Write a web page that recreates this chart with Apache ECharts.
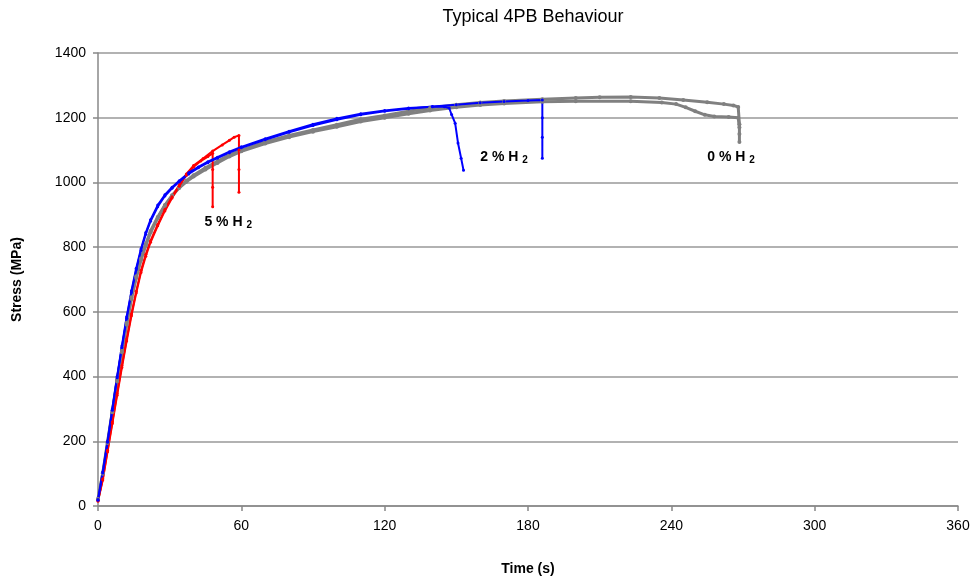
<!DOCTYPE html>
<html>
<head>
<meta charset="utf-8">
<script src="https://cdn.jsdelivr.net/npm/echarts@6/dist/echarts.min.js"></script>
<style>html,body{margin:0;padding:0;background:#fff}#c{width:974px;height:586px}</style>
</head>
<body>
<div id="c"></div>
<script>
// Time (s), Stress (MPa)
var red1 = [[0,15],[2,80],[4,168],[6,255],[8,342],[10,428],[12,510],[14,588],[16,658],[18,722],[20,772],[22,815],[25,866],[28,912],[31,952],[34,988],[37,1022],[40,1048],[43,1066],[46,1080],[48,1090],[48,1040],[48,985],[48,925]];
var red2 = [[0,18],[2,84],[4,172],[6,260],[8,348],[10,434],[12,516],[14,594],[16,664],[18,728],[20,778],[22,820],[25,870],[28,916],[31,956],[34,992],[37,1026],[40,1052],[44,1074],[48,1097],[52,1116],[55,1130],[57,1140],[59,1145],[59,1100],[59,1040],[59,970]];
var gray1 = [[0,20],[2,100],[4,195],[6,290],[8,385],[10,475],[12,560],[14,640],[16,705],[18,760],[20,805],[22,845],[25,890],[28,928],[31,958],[34,985],[37,1005],[40,1022],[45,1045],[50,1065],[55,1085],[60,1100],[70,1125],[80,1145],[90,1162],[100,1178],[110,1195],[120,1207],[130,1220],[139,1230],[150,1240],[160,1247],[170,1252],[186,1257],[200,1261],[210,1263],[223,1264],[235,1261],[245,1255],[255,1248],[262,1242],[266,1238],[268,1233],[268.5,1180],[268.5,1150],[268.5,1125]];
var gray2 = [[0,22],[2,102],[4,198],[6,294],[8,390],[10,480],[12,566],[14,645],[16,710],[18,765],[20,810],[22,850],[25,893],[28,930],[31,960],[34,983],[37,1002],[40,1018],[45,1040],[50,1060],[55,1080],[60,1096],[70,1120],[80,1140],[90,1157],[100,1172],[110,1188],[120,1200],[130,1212],[139,1222],[150,1232],[160,1239],[170,1244],[186,1249],[200,1251],[223,1251],[236,1247],[242,1242],[246,1232],[250,1220],[254,1209],[258,1204],[264,1202],[268,1200],[268.5,1170]];
var blue1 = [[0,20],[2,105],[4,200],[6,300],[8,400],[10,495],[12,585],[14,665],[16,735],[18,795],[20,845],[22,885],[25,930],[28,962],[31,985],[34,1005],[38,1030],[42,1048],[46,1064],[50,1078],[55,1095],[60,1110],[70,1135],[80,1158],[90,1180],[100,1198],[110,1212],[120,1222],[130,1230],[140,1234],[145,1234],[147,1230],[148,1210],[149.5,1183],[150.7,1122],[152,1075],[153,1038]];
var blue2 = [[0,18],[2,102],[4,197],[6,296],[8,396],[10,490],[12,580],[14,660],[16,730],[18,790],[20,840],[22,880],[25,925],[28,958],[31,982],[34,1002],[38,1026],[42,1045],[46,1061],[50,1075],[55,1092],[60,1107],[70,1132],[80,1155],[90,1176],[100,1194],[110,1209],[120,1220],[130,1228],[140,1235],[150,1240],[160,1246],[170,1250],[180,1253],[186,1255],[186,1200],[186,1140],[186,1075]];
var xTicks = [0,60,120,180,240,300,360];
var yTicks = [0,200,400,600,800,1000,1200,1400];
var annotations = [
  {coord:[54.5,878], h:'5'},
  {coord:[170,1078], h:'2'},
  {coord:[265,1078], h:'0'}
];

var chart = echarts.init(document.getElementById('c'), null, {renderer:'canvas'});
function ser(name, data, color, w, s){
  return {
    name:name, type:'line', data:data, color:color,
    showSymbol:true, symbol:'circle', symbolSize:s,
    lineStyle:{width:w, color:color},
    itemStyle:{color:color},
    animation:false
  };
}
var series = [
  ser('gray1', gray1, '#808080', 3, 4),
  ser('gray2', gray2, '#808080', 3, 4),
  ser('red1', red1, '#ff0000', 2, 3),
  ser('red2', red2, '#ff0000', 2, 3),
  ser('blue1', blue1, '#0000ff', 2, 3),
  ser('blue2', blue2, '#0000ff', 2, 3)
];
var FONT = 'Liberation Sans, Arial, sans-serif';
chart.setOption({
  backgroundColor:'#fff',
  animation:false,
  title:{text:'Typical 4PB Behaviour', left:528, textAlign:'center', top:3,
    textStyle:{fontFamily:FONT, fontWeight:'normal', fontSize:18, color:'#000'}},
  grid:{left:98, right:16, top:53, bottom:80},
  xAxis:{type:'value', min:0, max:360, interval:60,
    name:'Time (s)', nameLocation:'middle', nameGap:56,
    nameTextStyle:{fontFamily:FONT, fontWeight:'bold', fontSize:14, color:'#000'},
    axisLine:{show:true, lineStyle:{color:'#888', width:1.5}},
    axisTick:{show:true, length:5, lineStyle:{color:'#888', width:1.5}},
    axisLabel:{margin:13, fontFamily:FONT, fontSize:14, color:'#000',
      formatter:function(v){return xTicks.indexOf(v)>=0? String(v):'';}},
    splitLine:{show:false}
  },
  yAxis:{type:'value', min:0, max:1400, interval:200,
    name:'Stress (MPa)', nameLocation:'middle', nameGap:74,
    nameTextStyle:{fontFamily:FONT, fontWeight:'bold', fontSize:14, color:'#000'},
    axisLine:{show:true, lineStyle:{color:'#888', width:1.5}},
    axisTick:{show:true, length:5, lineStyle:{color:'#888', width:1.5}},
    axisLabel:{margin:12, fontFamily:FONT, fontSize:14, color:'#000',
      formatter:function(v){return yTicks.indexOf(v)>=0? String(v):'';}},
    splitLine:{show:true, lineStyle:{color:'#999', width:1.5}}
  },
  series:series
});
var g = [];
annotations.forEach(function(a){
  var p = chart.convertToPixel({gridIndex:0}, a.coord);
  g.push({type:'text', x:p[0], y:p[1], z:10,
    style:{text:'{a|'+a.h+' % H }{s|2}', align:'center', verticalAlign:'middle', fill:'#000',
      rich:{
        a:{fontFamily:FONT, fontWeight:'bold', fontSize:14, fill:'#000'},
        s:{fontFamily:FONT, fontWeight:'bold', fontSize:10, fill:'#000', padding:[7,0,0,0]}
      }}});
});
chart.setOption({graphic:g});
</script>
</body>
</html>
